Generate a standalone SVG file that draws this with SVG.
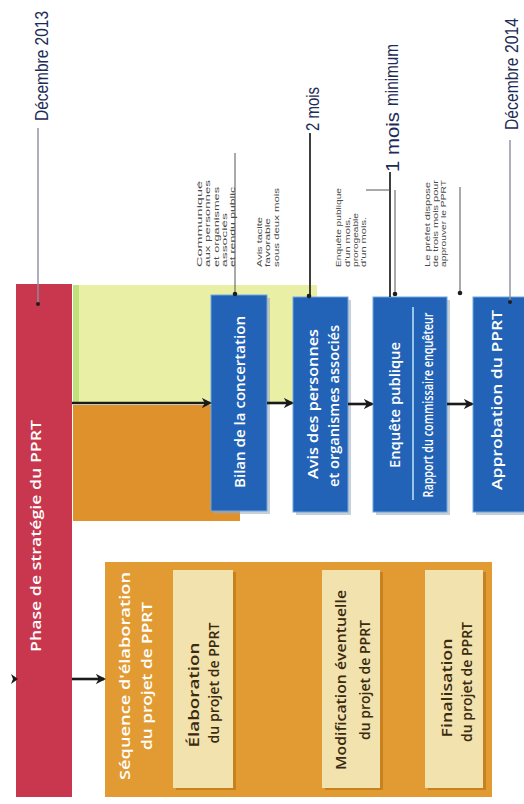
<svg xmlns="http://www.w3.org/2000/svg" width="524" height="804" viewBox="0 0 524 804">
<style>
.bg{fill:#ffffff}
.blue{fill:#2263b8;stroke:#6fa6e0;stroke-width:1}
.bshadow{fill:#9aa6b4;opacity:0.55}
.beige{fill:#f2e2ae}
.beshadow{fill:#b86f12;opacity:0.6}
.wt{font-family:"Open Sans","Liberation Sans",sans-serif;fill:#ffffff;font-size:15px;font-weight:600}
.dk{font-family:"Open Sans","Liberation Sans",sans-serif;fill:#3a2a10;font-size:14px;font-weight:600}
.ann{font-family:"Liberation Sans",Arial,sans-serif;fill:#4a4a4a;font-size:7.5px}
.date{font-family:"Liberation Sans",Arial,sans-serif;fill:#1c2b57;font-size:18px}
.lead{stroke:#555555;stroke-width:1;fill:none}
.leadk{stroke:#2a2a2a;stroke-width:1.8;fill:none}
.gray{stroke:#8a8f9a;stroke-width:1.4;fill:none}
.arr{stroke:#1a1a1a;stroke-width:2.6;fill:none;marker-end:url(#ah)}
.dot{fill:#1e1e1e}
</style>
<defs>
<marker id="ah" viewBox="0 0 10 10" refX="8" refY="5" markerWidth="4" markerHeight="4" orient="auto" markerUnits="strokeWidth">
<path d="M0,0 L10,5 L0,10 L3,5 Z" fill="#1a1a1a"/>
</marker>
</defs>
<rect class="bg" x="0" y="0" width="524" height="804"/>

<g id="background-areas">
<rect x="73" y="285" width="244" height="117" fill="#e9f0a6"/>
<rect x="73" y="285" width="6" height="117" fill="#bfe07a"/>
<rect x="73" y="405" width="167" height="116" fill="#df922c"/>
</g>

<g id="phase-strategie">
<rect x="16" y="284" width="56" height="513" fill="#c8374d"/>
<text class="wt" font-size="17" transform="translate(41,536) rotate(-90)" text-anchor="middle" textLength="232" lengthAdjust="spacingAndGlyphs">Phase de stratégie du PPRT</text>
</g>

<g id="bilan">
<rect class="bshadow" x="214" y="298" width="56" height="216"/>
<rect class="blue" x="211" y="295" width="56" height="216"/>
<text class="wt" transform="translate(245,402) rotate(-90)" text-anchor="middle" textLength="172" lengthAdjust="spacingAndGlyphs">Bilan de la concertation</text>
</g>

<g id="avis">
<rect class="bshadow" x="296" y="300" width="55" height="215"/>
<rect class="blue" x="293" y="297" width="55" height="215"/>
<text class="wt" transform="translate(318,404) rotate(-90)" text-anchor="middle" textLength="150" lengthAdjust="spacingAndGlyphs">Avis des personnes</text>
<text class="wt" transform="translate(339,406) rotate(-90)" text-anchor="middle" textLength="162" lengthAdjust="spacingAndGlyphs">et organismes associés</text>
</g>

<g id="enquete">
<rect class="bshadow" x="376" y="300" width="74" height="215"/>
<rect class="blue" x="373" y="297" width="74" height="215"/>
<text class="wt" font-size="16" transform="translate(400,405) rotate(-90)" text-anchor="middle" textLength="126" lengthAdjust="spacingAndGlyphs">Enquête publique</text>
<line x1="413" y1="307" x2="413" y2="500" stroke="#bfe6f7" stroke-width="1.5"/>
<text class="wt" font-size="10" font-weight="400" transform="translate(433,405) rotate(-90)" text-anchor="middle" textLength="185" lengthAdjust="spacingAndGlyphs">Rapport du commissaire enquêteur</text>
</g>

<g id="approbation">
<rect class="bshadow" x="476" y="300" width="51" height="215"/>
<rect class="blue" x="473" y="297" width="54" height="215"/>
<text class="wt" transform="translate(502,400) rotate(-90)" text-anchor="middle" textLength="180" lengthAdjust="spacingAndGlyphs">Approbation du PPRT</text>
</g>

<g id="sequence">
<rect x="105" y="562" width="387" height="235" fill="#e29b33"/>
<text class="wt" fill="#fff6e0" font-size="16" transform="translate(130,676) rotate(-90)" text-anchor="middle" textLength="208" lengthAdjust="spacingAndGlyphs">Séquence d'élaboration</text>
<text class="wt" fill="#fff6e0" font-size="16" transform="translate(152,676) rotate(-90)" text-anchor="middle" textLength="148" lengthAdjust="spacingAndGlyphs">du projet de PPRT</text>
</g>

<g id="elaboration">
<rect class="beshadow" x="176" y="572" width="60" height="218"/>
<rect class="beige" x="173" y="570" width="60" height="218"/>
<text class="dk" transform="translate(199,695) rotate(-90)" text-anchor="middle" textLength="105" lengthAdjust="spacingAndGlyphs">Élaboration</text>
<text class="dk" transform="translate(219,683) rotate(-90)" text-anchor="middle" textLength="121" lengthAdjust="spacingAndGlyphs">du projet de PPRT</text>
</g>

<g id="modification">
<rect class="beshadow" x="325" y="572" width="58" height="218"/>
<rect class="beige" x="322" y="570" width="58" height="218"/>
<text class="dk" transform="translate(346,680) rotate(-90)" text-anchor="middle" textLength="180" lengthAdjust="spacingAndGlyphs">Modification éventuelle</text>
<text class="dk" transform="translate(370,680) rotate(-90)" text-anchor="middle" textLength="120" lengthAdjust="spacingAndGlyphs">du projet de PPRT</text>
</g>

<g id="finalisation">
<rect class="beshadow" x="428" y="572" width="58" height="218"/>
<rect class="beige" x="425" y="570" width="58" height="218"/>
<text class="dk" transform="translate(452,688) rotate(-90)" text-anchor="middle" textLength="99" lengthAdjust="spacingAndGlyphs">Finalisation</text>
<text class="dk" transform="translate(472,682) rotate(-90)" text-anchor="middle" textLength="120" lengthAdjust="spacingAndGlyphs">du projet de PPRT</text>
</g>

<g id="date-2013">
<text class="date" transform="translate(48,66) rotate(-90)" text-anchor="middle" textLength="110" lengthAdjust="spacingAndGlyphs">Décembre 2013</text>
</g>
<g id="date-2014">
<text class="date" transform="translate(518,74) rotate(-90)" text-anchor="middle" textLength="112" lengthAdjust="spacingAndGlyphs">Décembre 2014</text>
</g>

<g id="note-bilan">
<text class="ann" transform="translate(202,267) rotate(-90)" textLength="86" lengthAdjust="spacingAndGlyphs">Communiqué</text>
<text class="ann" transform="translate(210,267) rotate(-90)" textLength="87" lengthAdjust="spacingAndGlyphs">aux personnes</text>
<text class="ann" transform="translate(219,267) rotate(-90)" textLength="80" lengthAdjust="spacingAndGlyphs">et organismes</text>
<text class="ann" transform="translate(227,267) rotate(-90)" textLength="54" lengthAdjust="spacingAndGlyphs">associés</text>
<text class="ann" transform="translate(235,267) rotate(-90)" textLength="80" lengthAdjust="spacingAndGlyphs">et rendu public</text>
</g>

<g id="note-avis">
<text class="ann" transform="translate(262,267) rotate(-90)" textLength="50" lengthAdjust="spacingAndGlyphs">Avis tacite</text>
<text class="ann" transform="translate(270,267) rotate(-90)" textLength="49" lengthAdjust="spacingAndGlyphs">favorable</text>
<text class="ann" transform="translate(279,267) rotate(-90)" textLength="79" lengthAdjust="spacingAndGlyphs">sous deux mois</text>
<text class="date" font-size="18" transform="translate(319,131) rotate(-90)" textLength="44" lengthAdjust="spacingAndGlyphs">2 mois</text>
</g>

<g id="note-enquete">
<text class="ann" transform="translate(341,267) rotate(-90)" textLength="79" lengthAdjust="spacingAndGlyphs">Enquête publique</text>
<text class="ann" transform="translate(350,267) rotate(-90)" textLength="50" lengthAdjust="spacingAndGlyphs">d'un mois,</text>
<text class="ann" transform="translate(358,267) rotate(-90)" textLength="54" lengthAdjust="spacingAndGlyphs">prorogeable</text>
<text class="ann" transform="translate(366,267) rotate(-90)" textLength="50" lengthAdjust="spacingAndGlyphs">d'un mois.</text>
<text class="date" transform="translate(399,172) rotate(-90)" textLength="60" lengthAdjust="spacingAndGlyphs">1 mois</text>
<text class="date" font-size="10" transform="translate(398,106) rotate(-90)" textLength="62" lengthAdjust="spacingAndGlyphs">minimum</text>
</g>

<g id="note-approbation">
<text class="ann" transform="translate(430,267) rotate(-90)" textLength="85" lengthAdjust="spacingAndGlyphs">Le préfet dispose</text>
<text class="ann" transform="translate(438,267) rotate(-90)" textLength="87" lengthAdjust="spacingAndGlyphs">de trois mois pour</text>
<text class="ann" transform="translate(446,267) rotate(-90)" textLength="87" lengthAdjust="spacingAndGlyphs">approuver le PPRT</text>
</g>

<g id="connectors">
<line class="arr" x1="72" y1="403" x2="210" y2="403"/>
<line class="arr" x1="267" y1="403" x2="292" y2="403"/>
<line class="arr" x1="348" y1="404" x2="372" y2="404"/>
<line class="arr" x1="447" y1="404" x2="472" y2="404"/>
<line class="arr" x1="72" y1="679" x2="104" y2="679"/>
<path d="M11,674 L18,679 L11,684 L13,679 Z" fill="#1a1a1a"/>
<line class="gray" x1="38" y1="128" x2="38" y2="304"/>
<circle class="dot" cx="38" cy="304" r="2"/>
<line class="gray" x1="510" y1="140" x2="510" y2="302"/>
<circle class="dot" cx="510" cy="302" r="2"/>
<line class="lead" x1="235" y1="153" x2="235" y2="294"/>
<circle class="dot" cx="235" cy="294" r="2.3"/>
<line class="leadk" x1="310" y1="133" x2="310" y2="296"/>
<circle class="dot" cx="309" cy="296" r="2.3"/>
<line class="leadk" x1="390" y1="172" x2="390" y2="297"/>
<path class="lead" d="M366,190 L390,190"/>
<line class="lead" x1="395" y1="190" x2="395" y2="294"/>
<circle class="dot" cx="395" cy="294" r="2.3"/>
<line class="lead" x1="460" y1="187" x2="460" y2="293"/>
<circle class="dot" cx="460" cy="293" r="2.3"/>
</g>
</svg>
